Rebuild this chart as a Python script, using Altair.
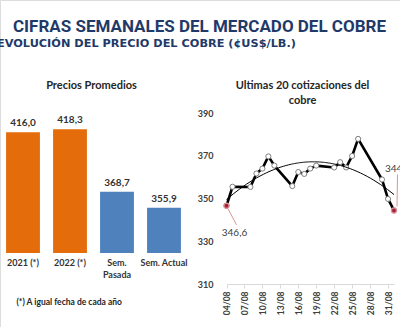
import altair as alt
import pandas as pd

# ---------------- data ----------------
categories = ["2021 (*)", "2022 (*)", "Sem.|Pasada", "Sem. Actual"]
averages = [416.0, 418.3, 368.7, 355.9]
groups = ["Año", "Año", "Semana", "Semana"]

dates = [
    "2022-08-04", "2022-08-05", "2022-08-08", "2022-08-09", "2022-08-10",
    "2022-08-11", "2022-08-12", "2022-08-15", "2022-08-16", "2022-08-17",
    "2022-08-18", "2022-08-19", "2022-08-22", "2022-08-23", "2022-08-24",
    "2022-08-25", "2022-08-26", "2022-08-30", "2022-08-31", "2022-09-01",
]
prices = [
    346.6, 355.5, 355.4, 361.7, 364.0,
    369.7, 365.4, 355.8, 362.4, 361.5,
    364.0, 365.4, 364.5, 367.0, 364.5,
    369.9, 377.9, 358.9, 349.8, 344.4,
]
tick_days = [4, 7, 10, 13, 16, 19, 22, 25, 28, 31]
y_ticks = [310, 330, 350, 370, 390]

bars_df = pd.DataFrame({"cat": categories, "value": averages, "grp": groups})
line_df = pd.DataFrame({"date": dates, "price": prices})
first_df = line_df.iloc[[0]]
last_df = line_df.iloc[[-1]]

W, H = 400, 327
NAVY = "#1F3A68"
DARK = "#333333"
LFONT = "Lato"

# ---------------- left panel: bars ----------------
xb = alt.X(
    "cat:N", sort=categories,
    scale=alt.Scale(range=[-0.5, 187.5], paddingInner=0.28, paddingOuter=0.14),
    axis=alt.Axis(orient="bottom", offset=-74, domain=False, ticks=False,
                  labelAngle=0, labelExpr="split(datum.label, '|')",
                  labelPadding=5, labelFont=LFONT, labelFontSize=9,
                  labelFontWeight="bold", labelColor=DARK, labelLineHeight=12,
                  title=None, grid=False),
)
yb = alt.Y("value:Q", scale=alt.Scale(domain=[320, 420], range=[253, 127.2], nice=False, zero=False),
           axis=None)

bars = alt.Chart(bars_df).mark_bar().encode(
    x=xb, y=yb, y2=alt.datum(320),
    color=alt.Color("grp:N", scale=alt.Scale(domain=["Año", "Semana"], range=["#E46C0A", "#4F81BD"]),
                    legend=None),
)
bar_labels = alt.Chart(bars_df).mark_text(
    font=LFONT, fontSize=10, fontWeight="bold", color=DARK, baseline="alphabetic", dy=-6
).encode(x=xb, y=yb, text=alt.Text("value:Q", format=".1f"))

left = alt.layer(bars, bar_labels)

# ---------------- right panel: line ----------------
def dt(m, d):
    return alt.DateTime(year=2022, month=m, date=d, utc=True)

xl = alt.X(
    "date:T",
    scale=alt.Scale(type="utc", domain=[dt(8, 4), dt(9, 1)], range=[226.5, 394], nice=False),
    axis=alt.Axis(orient="bottom", offset=-43, values=[dt(8, d) for d in tick_days],
                  format="%d/%m", labelAngle=270, labelPadding=3, labelFont=LFONT,
                  labelFontSize=8.5, labelFontWeight="bold", labelColor="#404040",
                  domainColor="#d9d9d9", tickColor="#d9d9d9", tickSize=4,
                  grid=False, title=None),
)
yl = alt.Y(
    "price:Q",
    scale=alt.Scale(domain=[310, 390], range=[284, 113], nice=False, zero=False),
    axis=alt.Axis(orient="left", offset=-217, values=y_ticks, domain=False, ticks=False,
                  grid=False, labelPadding=4, labelFont=LFONT, labelFontSize=9,
                  labelFontWeight="bold", labelColor="#404040", title=None),
)

line = alt.Chart(line_df).mark_line(color="black", strokeWidth=2.6, strokeJoin="round").encode(x=xl, y=yl)
pts = alt.Chart(line_df).mark_point(filled=True, fill="white", stroke="#7f7f7f", strokeWidth=1,
                                    size=26, opacity=1).encode(x=xl, y=yl)
trend = alt.Chart(line_df).transform_calculate(
    t="toDate(datum.date)"
).transform_regression("t", "price", method="poly", order=2).mark_line(
    color="black", strokeWidth=1
).encode(x=alt.X("t:T", scale=alt.Scale(type="utc")), y=alt.Y("price:Q"))

ends = alt.Chart(pd.concat([first_df, last_df])).mark_point(
    filled=True, fill="#a8213f", stroke="#d99694", strokeWidth=1.2, size=26, opacity=1
).encode(x=xl, y=yl)

lead1 = alt.Chart(first_df).mark_rule(color="#d99694", strokeWidth=1,
                                      xOffset=1.5, yOffset=3, x2Offset=10, y2Offset=19).encode(
    x=xl, y=yl, x2="date:T", y2="price:Q")
lead2 = alt.Chart(last_df).mark_rule(color="#d99694", strokeWidth=1,
                                     xOffset=3, yOffset=-4, x2Offset=3.5, y2Offset=-36).encode(
    x=xl, y=yl, x2="date:T", y2="price:Q")

lab1 = alt.Chart(first_df).mark_text(font=LFONT, fontSize=10, color="#404040", dx=8, dy=27,
                                     baseline="middle").encode(
    x=xl, y=yl, text=alt.Text("price:Q", format=".1f"))
lab2 = alt.Chart(last_df).mark_text(font=LFONT, fontSize=10, color="#404040", dx=-9, dy=-41,
                                    align="left", baseline="middle").encode(
    x=xl, y=yl, text=alt.Text("price:Q", format=".1f"))

right = alt.layer(line, pts, trend, lead1, lead2, ends, lab1, lab2)

# ---------------- texts ----------------
def label(txt, x, y, size, font, color, align="center", weight="bold"):
    return alt.Chart(pd.DataFrame({"t": [txt]})).mark_text(
        font=font, fontSize=size, fontWeight=weight, color=color, align=align, baseline="alphabetic"
    ).encode(text="t:N", x=alt.value(x), y=alt.value(y))

texts = alt.layer(
    label("CIFRAS SEMANALES DEL MERCADO DEL COBRE", 199.5, 31.5, 17, "Roboto", NAVY),
    label("EVOLUCIÓN DEL PRECIO DEL COBRE (¢US$/LB.)", -3, 47, 11.3, "DejaVu Sans", NAVY, align="left"),
    label("Precios Promedios", 91.5, 89, 11, LFONT, "#262626"),
    label("Ultimas 20 cotizaciones del", 302.5, 89, 11, LFONT, "#262626"),
    label("cobre", 302.5, 104, 11, LFONT, "#262626"),
    label("(*) A igual fecha de cada año", 16.5, 305, 8.5, LFONT, "#262626", align="left"),
)

chart = alt.layer(left, right, texts).resolve_scale(
    x="independent", y="independent", color="independent"
).resolve_axis(x="independent", y="independent").properties(
    width=W, height=H, padding=0, autosize=alt.AutoSizeParams(type="none"), background="white"
).configure_view(stroke=None).configure(
    locale=alt.Locale(number=alt.NumberLocale(decimal=",", thousands=".", grouping=[3], currency=["", ""]))
)

chart.save("out.html", embed_options={"renderer": "svg", "actions": False})
